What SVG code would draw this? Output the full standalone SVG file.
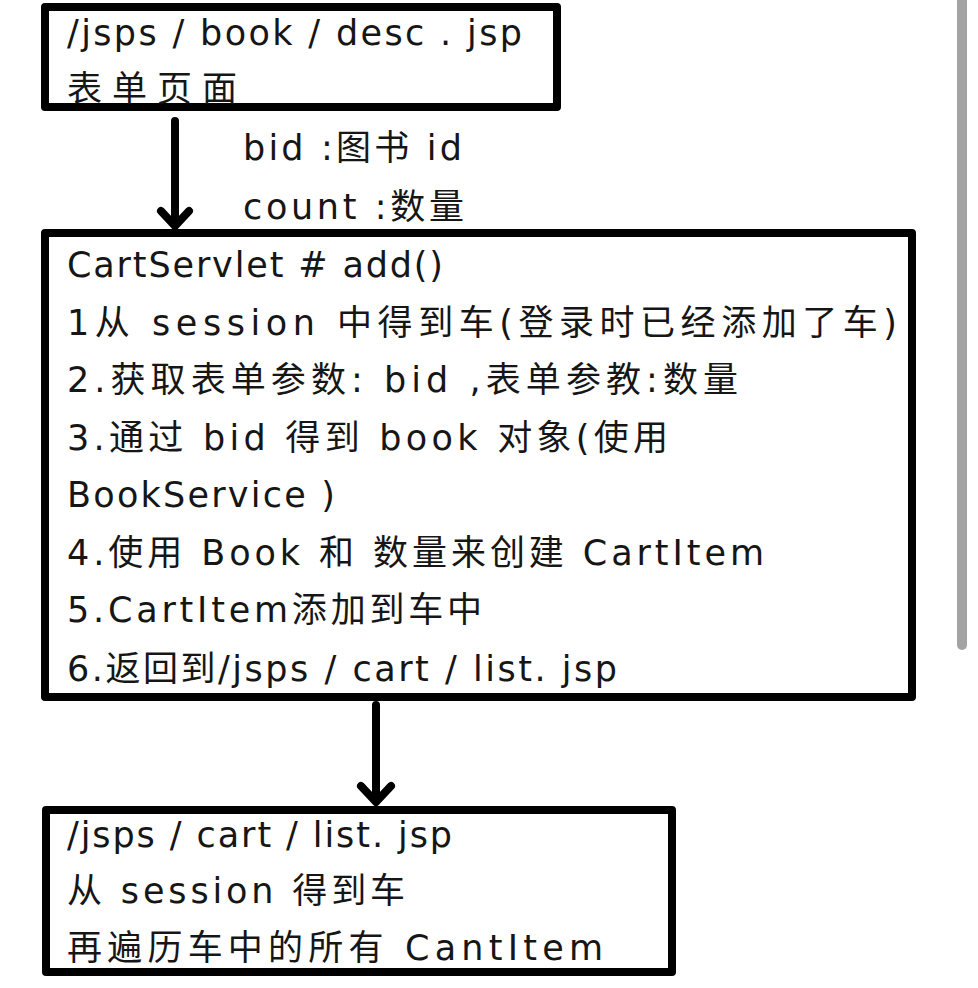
<svg xmlns="http://www.w3.org/2000/svg" width="978" height="988" viewBox="0 0 978 988">
<style>
.box{fill:#fff;stroke:#000;stroke-width:8;stroke-linejoin:round}
.t{font-family:"DejaVu Sans","Noto Sans CJK SC",sans-serif;font-size:35px;fill:#161616}
.conn{stroke:#000;stroke-width:8;fill:none;stroke-linecap:round;stroke-linejoin:round}
</style>
<rect width="978" height="988" fill="#fff"/>
<rect x="957" y="-6" width="10" height="656" rx="5" fill="#a3a3a3"/>
<g id="connectors">
<path class="conn" d="M175,121 V224 M161,211 L175,226 L189,211"/>
<path class="conn" d="M376,705 V800 M361,786 L376,802 L391,786"/>
<text class="t" x="243" y="160" textLength="219" lengthAdjust="spacing">bid :图书 id</text>
<text class="t" x="243" y="219" textLength="221" lengthAdjust="spacing">count :数量</text>
</g>
<g id="desc">
<rect class="box" x="45" y="7" width="512" height="100"/>
<text class="t" x="67" y="45" textLength="455" lengthAdjust="spacing">/jsps / book / desc . jsp</text>
<text class="t" x="67" y="101" textLength="170" lengthAdjust="spacing">表单页面</text>
</g>
<g id="servlet">
<rect class="box" x="45" y="233" width="867" height="464"/>
<text class="t" x="67" y="277" textLength="376" lengthAdjust="spacing">CartServlet # add()</text>
<text class="t" x="67" y="335" textLength="830" lengthAdjust="spacing">1从 session 中得到车(登录时已经添加了车)</text>
<text class="t" x="67" y="392" textLength="671" lengthAdjust="spacing">2.获取表单参数: bid ,表单参教:数量</text>
<text class="t" x="67" y="450" textLength="601" lengthAdjust="spacing">3.通过 bid 得到 book 对象(使用</text>
<text class="t" x="67" y="507" textLength="268" lengthAdjust="spacing">BookService )</text>
<text class="t" x="67" y="565" textLength="697" lengthAdjust="spacing">4.使用 Book 和 数量来创建 CartItem</text>
<text class="t" x="67" y="622" textLength="415" lengthAdjust="spacing">5.CartItem添加到车中</text>
<text class="t" x="67" y="681" textLength="550" lengthAdjust="spacing">6.返回到/jsps / cart / list. jsp</text>
</g>
<g id="list">
<rect class="box" x="46" y="810" width="626" height="162"/>
<text class="t" x="67" y="847" textLength="385" lengthAdjust="spacing">/jsps / cart / list. jsp</text>
<text class="t" x="67" y="903" textLength="338" lengthAdjust="spacing">从 session 得到车</text>
<text class="t" x="67" y="960" textLength="536" lengthAdjust="spacing">再遍历车中的所有 CantItem</text>
</g>
</svg>
